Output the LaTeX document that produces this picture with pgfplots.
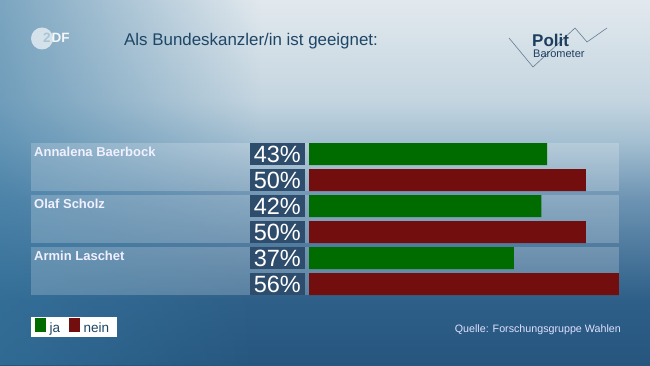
\documentclass[border=0pt]{standalone}
\usepackage{fontspec}
\setmainfont{Liberation Sans}
\usepackage{pgfplots}
\pgfplotsset{compat=1.18}
\usetikzlibrary{fadings}
\definecolor{jagreen}{RGB}{0,108,0}
\definecolor{neinred}{RGB}{114,14,14}
\definecolor{boxblue}{RGB}{46,76,108}
\definecolor{titleblue}{RGB}{30,70,102}
\definecolor{logoblue}{RGB}{30,62,96}
\definecolor{lineblue}{RGB}{100,125,145}
\definecolor{bgA}{RGB}{38,86,126}
\definecolor{bgB}{RGB}{46,95,136}
\definecolor{bgC}{RGB}{108,147,178}
\definecolor{bgC2}{RGB}{165,192,210}
\definecolor{bgD}{RGB}{196,213,224}
\definecolor{bgE}{RGB}{226,233,238}
\definecolor{vign}{RGB}{55,120,162}
\definecolor{zdfcut}{RGB}{170,196,212}
\pgfdeclareverticalshading{bgshade}{100bp}{color(0bp)=(bgA); color(25bp)=(bgA); color(33.9bp)=(bgB); color(47.6bp)=(bgC); color(55.8bp)=(bgC2); color(61.3bp)=(bgD); color(75bp)=(bgE); color(100bp)=(bgE)}
\begin{document}
\begin{tikzpicture}[x=1pt,y=1pt]
\useasboundingbox (0,0) rectangle (650,365);
\shade[shading=bgshade] (0,0) rectangle (650,365);
\fill[vign, path fading=east, fill opacity=0.6] (0,0) rectangle (260,365);
% logos and title
\fill[white, fill opacity=0.65] (42,326.5) circle (11);
\node[anchor=base west, inner sep=0, font=\bfseries\fontsize{13.5}{14}\selectfont, text=zdfcut] at (43,322.5) {2};
\node[anchor=base west, inner sep=0, font=\bfseries\fontsize{13.5}{14}\selectfont, text=white, text opacity=0.9] at (51.5,322.5) {DF};
\node[anchor=base west, inner sep=0, font=\fontsize{16.9}{17}\selectfont, text=titleblue] at (124,319.5) {Als Bundeskanzler/in ist geeignet:};
\draw[lineblue, line width=0.6pt] (509,327) -- (533,298) -- (575,337) -- (587,323) -- (607,337);
\node[anchor=base west, inner sep=0, font=\bfseries\fontsize{17}{17}\selectfont, text=logoblue] at (532,318.8) {Polit};
\node[anchor=base west, inner sep=0, font=\fontsize{11}{12}\selectfont, text=logoblue] at (533,307.8) {Barometer};
% panels
\fill[white, fill opacity=0.2] (31,174) rectangle (619,222);
\fill[white, fill opacity=0.2] (31,122) rectangle (619,170);
\fill[white, fill opacity=0.2] (31,70) rectangle (619,118);
\node[anchor=base west, inner sep=0, font=\bfseries\fontsize{13}{13}\selectfont, text=white!94!blue] at (34,209) {Annalena Baerbock};
\node[anchor=base west, inner sep=0, font=\bfseries\fontsize{13}{13}\selectfont, text=white!94!blue] at (34,157) {Olaf Scholz};
\node[anchor=base west, inner sep=0, font=\bfseries\fontsize{13}{13}\selectfont, text=white!94!blue] at (34,105) {Armin Laschet};
\node[anchor=base east, inner sep=0, font=\fontsize{10.7}{11}\selectfont, text=white!88!blue] at (621,33) {Quelle: Forschungsgruppe Wahlen};
\begin{axis}[at={(309pt,68pt)}, anchor=south west, scale only axis,
  width=310pt, height=156pt, xmin=0, xmax=56, ymin=-0.5, ymax=5.5,
  hide axis, clip=false,
  /pgf/number format/assume math mode=true,
  legend columns=2,
  legend style={at={(axis description cs:-0.8968,-0.2545)}, anchor=south west,
    fill=white, draw=none, inner xsep=4pt, inner ysep=0.5pt,
    font=\fontsize{13.5}{14}\selectfont, text=titleblue,
    /tikz/every even column/.append style={column sep=5pt},
    nodes={inner xsep=3.5pt, inner ysep=2pt}},
]
\addplot[xbar, bar shift=0pt, bar width=22pt, fill=jagreen, draw=none,
  legend image code/.code={\fill[jagreen] (0pt,-3.5pt) rectangle (11pt,10.5pt);}]
  coordinates {(43,5) (42,3) (37,1)};
\addplot[xbar, bar shift=0pt, bar width=22pt, fill=neinred, draw=none,
  legend image code/.code={\fill[neinred] (0pt,-3.5pt) rectangle (11.5pt,10.5pt);}]
  coordinates {(50,4) (50,2) (56,0)};
\addplot[forget plot, draw=none, mark=none, point meta=explicit,
  nodes near coords={\pgfmathprintnumber{\pgfplotspointmeta}\%},
  nodes near coords style={anchor=east, xshift=-4pt, fill=boxblue, text=white,
    minimum width=55pt, minimum height=22pt, inner sep=0pt,
    font=\fontsize{23.5}{24}\selectfont}]
  coordinates {(0,5) [43] (0,4) [50] (0,3) [42] (0,2) [50] (0,1) [37] (0,0) [56]};
\legend{ja, nein}
\end{axis}
\end{tikzpicture}
\end{document}
